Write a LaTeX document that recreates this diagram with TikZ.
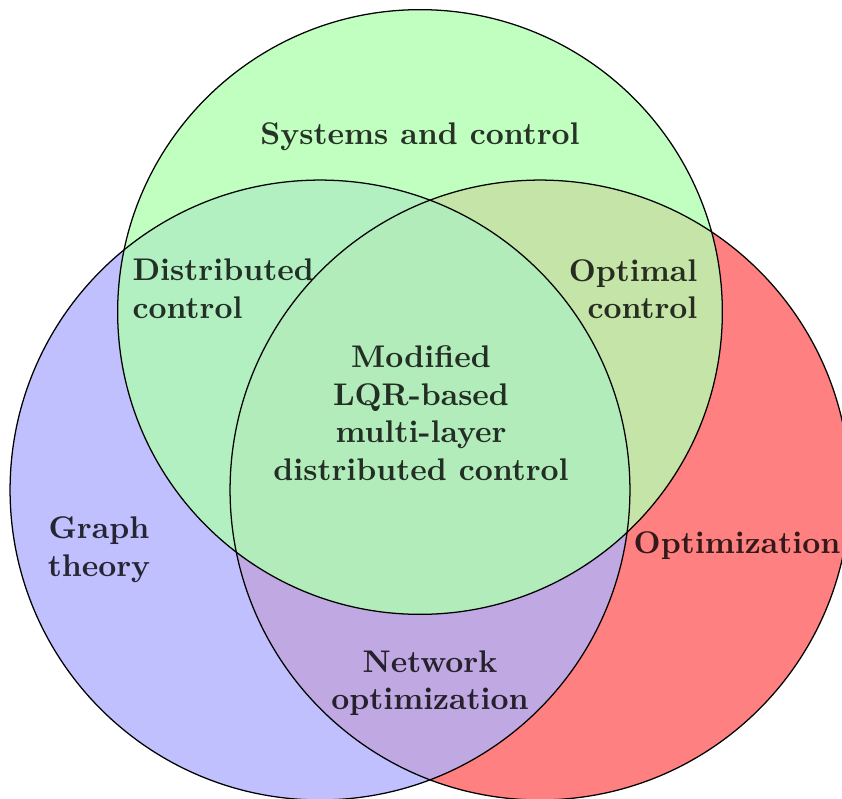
\documentclass[tikz,border=0pt]{standalone}
\usetikzlibrary{positioning}

% region colours of the three-set diagram
\definecolor{cG}{HTML}{C0FFC0}
\definecolor{cB}{HTML}{C0C0FF}
\definecolor{cR}{HTML}{FF8080}
\definecolor{cBG}{HTML}{B2F0C2}
\definecolor{cGR}{HTML}{C4E4A8}
\definecolor{cBR}{HTML}{C0A8E2}
\definecolor{cBGR}{HTML}{B2ECBA}

\begin{document}
\begin{tikzpicture}[x=0.3162pt,y=-0.3162pt,
  lbl/.style={font=\fontsize{9.9}{11.9}\selectfont\bfseries, text opacity=0.8, inner sep=0pt},
  rim/.style={draw=black, line width=0.4pt}]
\useasboundingbox (0,0) rectangle (842,798);

\def\rb{98.0pt}
\def\rg{95.6pt}
\coordinate (B) at (320,490);
\coordinate (R) at (540,490);
\coordinate (G) at (420,312);

% single sets
\fill[cB] (B) circle [radius=\rb];
\fill[cR] (R) circle [radius=\rb];
\begin{scope}
  \clip (B) circle [radius=\rb];
  \fill[cBR] (R) circle [radius=\rb];
\end{scope}
\fill[cG] (G) circle [radius=\rg];
% overlaps with the green set
\begin{scope}
  \clip (G) circle [radius=\rg];
  \fill[cBG] (B) circle [radius=\rb];
  \fill[cGR] (R) circle [radius=\rb];
  \clip (B) circle [radius=\rb];
  \fill[cBGR] (R) circle [radius=\rb];
\end{scope}

% outlines
\draw[rim] (B) circle [radius=\rb];
\draw[rim] (R) circle [radius=\rb];
\draw[rim] (G) circle [radius=\rg];

% labels
\node[lbl] (sc) at (420,137) {Systems and control};
\node[lbl, align=left, anchor=west] (dc) at (132,289) {Distributed\\control};
\node[lbl, align=right, anchor=east] (oc) at (698,289) {Optimal\\control};
\node[lbl, align=center] (mq) at (421,413) {Modified\\LQR-based\\multi-layer\\distributed control};
\node[lbl, align=center] (gt) at (99,550) {Graph\\theory};
\node[lbl] (op) at (737,546) {Optimization};
\node[lbl, align=center] (no) at (430,683) {Network\\optimization};
\end{tikzpicture}
\end{document}
